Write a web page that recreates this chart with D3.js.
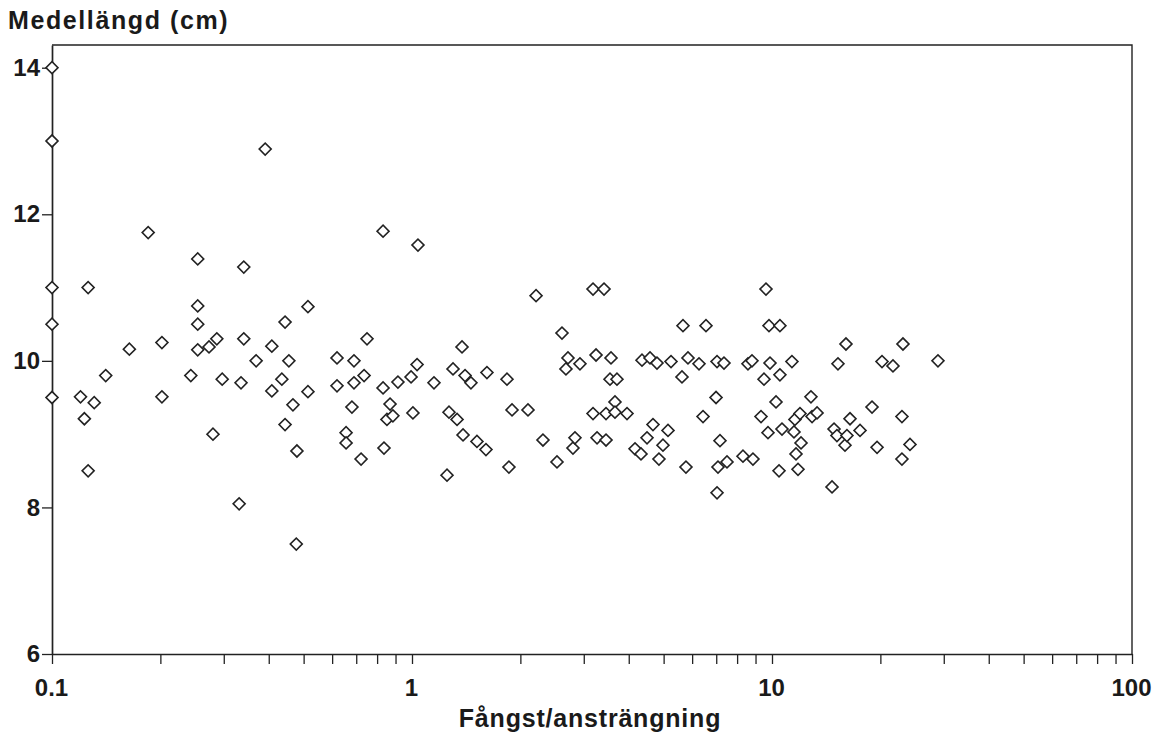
<!DOCTYPE html>
<html>
<head>
<meta charset="utf-8">
<script src="https://cdn.jsdelivr.net/npm/d3@7"></script>
<style>
  body { margin: 0; background: #fff; }
  svg text { font-family: "Liberation Sans", Arial, sans-serif; font-weight: bold; fill: #1a1a1a; }
</style>
</head>
<body>
<svg id="chart"></svg>
<script>
// catch per effort (x) and mean length in cm (y)
const catchPerEffort = [
  0.1, 0.1, 0.1, 0.1, 0.1, 0.12, 0.123, 0.126, 0.126, 0.131,
  0.141, 0.164, 0.185, 0.202, 0.202, 0.243, 0.254, 0.254, 0.254, 0.254,
  0.273, 0.28, 0.287, 0.297, 0.331, 0.335, 0.341, 0.341, 0.369, 0.391,
  0.408, 0.408, 0.435, 0.444, 0.444, 0.455, 0.467, 0.479, 0.477, 0.514,
  0.514, 0.619, 0.619, 0.656, 0.656, 0.681, 0.69, 0.69, 0.722, 0.736,
  0.75, 0.831, 0.831, 0.836, 0.852, 0.869, 0.885, 0.914, 0.994,
  1.006, 1.033, 1.039, 1.151, 1.251, 1.267, 1.30, 1.334, 1.377, 1.386,
  1.404, 1.458, 1.515, 1.605, 1.615, 1.836, 1.859, 1.896, 2.10, 2.211,
  2.311, 2.528, 2.61, 2.677, 2.712, 2.80, 2.836, 2.928, 3.183, 3.183,
  3.245, 3.266, 3.415, 3.459, 3.459, 3.548, 3.571, 3.663, 3.663, 3.71,
  3.956, 4.164, 4.326, 4.354, 4.496, 4.583, 4.671, 4.792, 4.853, 4.979,
  5.142, 5.242, 5.623, 5.659, 5.768, 5.843, 6.27, 6.433, 6.556, 6.991,
  7.036, 7.036, 7.079, 7.17, 7.356, 7.499, 8.306, 8.576, 8.799, 8.854,
  9.321, 9.501, 9.623, 9.747, 9.81, 9.873,
  10.26, 10.46, 10.52, 10.52, 10.66, 11.36, 11.51, 11.58, 11.66, 11.81,
  11.96, 12.04, 12.83, 12.92, 13.34, 14.68, 14.87, 15.15, 15.25, 15.95,
  16.05, 16.15, 16.47, 17.56, 18.96, 19.58, 20.21, 21.68, 22.96, 22.96,
  23.11, 24.17, 28.91
];
const meanLength = [
  14.0, 13.0, 11.0, 10.5, 9.5, 9.51, 9.21, 11.0, 8.5, 9.43,
  9.8, 10.16, 11.75, 10.25, 9.51, 9.8, 11.39, 10.75, 10.5, 10.15,
  10.19, 9.0, 10.3, 9.75, 8.05, 9.7, 11.28, 10.3, 10.0, 12.89,
  10.2, 9.59, 9.75, 10.53, 9.13, 10.0, 9.4, 8.77, 7.5, 10.74,
  9.58, 10.04, 9.66, 9.02, 8.88, 9.37, 10.0, 9.7, 8.66, 9.8,
  10.3, 9.63, 11.77, 8.81, 9.2, 9.41, 9.25, 9.71, 9.78,
  9.29, 9.95, 11.58, 9.7, 8.44, 9.3, 9.89, 9.2, 10.19, 8.99,
  9.8, 9.7, 8.9, 8.79, 9.84, 9.75, 8.55, 9.33, 9.33, 10.89,
  8.92, 8.62, 10.38, 9.89, 10.04, 8.81, 8.95, 9.96, 10.98, 9.28,
  10.08, 8.95, 10.98, 9.28, 8.92, 9.75, 10.04, 9.44, 9.3, 9.75,
  9.28, 8.8, 8.73, 10.01, 8.95, 10.04, 9.13, 9.97, 8.66, 8.85,
  9.05, 9.99, 9.78, 10.48, 8.55, 10.04, 9.96, 9.24, 10.48, 9.5,
  9.99, 8.2, 8.55, 8.91, 9.97, 8.62, 8.7, 9.96, 10.0, 8.66,
  9.24, 9.75, 10.98, 9.02, 10.48, 9.97,
  9.44, 8.5, 10.48, 9.81, 9.07, 9.99, 9.03, 9.2, 8.73, 8.52,
  9.28, 8.88, 9.51, 9.24, 9.29, 8.28, 9.07, 8.98, 9.96, 8.85,
  10.23, 8.98, 9.21, 9.05, 9.37, 8.82, 9.99, 9.93, 9.24, 8.66,
  10.23, 8.86, 10.0
];
const yTicks = [6, 8, 10, 12, 14];
const xMajor = [0.1, 1, 10, 100];

const width = 1170, height = 736;
const mLeft = 52, mRight = 1132, mTop = 45, mBottom = 654;

const svg = d3.select("#chart").attr("width", width).attr("height", height);

const x = d3.scaleLog().domain([0.1, 100]).range([mLeft, mRight]);
const y = d3.scaleLinear().domain([6, 14.31]).range([mBottom, mTop]);

// all decade ticks 1..9 for the log axis
const xTicks = [];
[0.1, 1, 10].forEach(dec => { for (let k = 1; k <= 9; k++) xTicks.push(+(dec * k).toPrecision(2)); });
xTicks.push(100);

// frame: top and right
svg.append("path")
  .attr("d", `M${mLeft},${mTop}H${mRight}V${mBottom}`)
  .attr("fill", "none").attr("stroke", "#222").attr("stroke-width", 1.4);

const xAxis = svg.append("g")
  .attr("transform", `translate(0,${mBottom})`)
  .call(d3.axisBottom(x).tickValues(xTicks).tickSize(10).tickSizeOuter(0).tickPadding(15)
    .tickFormat(d => xMajor.includes(d) ? String(d) : ""));

const yAxis = svg.append("g")
  .attr("transform", `translate(${mLeft},0)`)
  .call(d3.axisLeft(y).tickValues(yTicks).tickSize(10).tickSizeOuter(0).tickPadding(2));

[xAxis, yAxis].forEach(g => {
  g.select(".domain").attr("stroke", "#222").attr("stroke-width", 1.7);
  g.selectAll(".tick line").attr("stroke", "#222").attr("stroke-width", 1.3);
  g.selectAll(".tick text").style("font-size", "24px").style("font-family", "Liberation Sans, Arial, sans-serif")
    .style("font-weight", "bold").attr("fill", "#1a1a1a");
});
xAxis.selectAll(".tick text").attr("dx", "-1px");

// titles
svg.append("text").attr("x", 8).attr("y", 29)
  .style("font-size", "25px").style("letter-spacing", "1.6px")
  .text("Medellängd  (cm)");
svg.append("text").attr("x", 590).attr("y", 727).attr("text-anchor", "middle")
  .style("font-size", "25px").style("letter-spacing", "0.8px")
  .text("Fångst/ansträngning");

// diamonds
const points = catchPerEffort.map((v, i) => ({ cpe: v, len: meanLength[i] }));
const diamond = d3.symbol().type(d3.symbolSquare).size(72);

svg.append("g").selectAll("path")
  .data(points)
  .enter()
  .append("path")
  .attr("d", diamond)
  .attr("transform", d => `translate(${x(d.cpe)},${y(d.len)}) rotate(45)`)
  .attr("fill", "#fff")
  .attr("stroke", "#222")
  .attr("stroke-width", 1.6);
</script>
</body>
</html>
